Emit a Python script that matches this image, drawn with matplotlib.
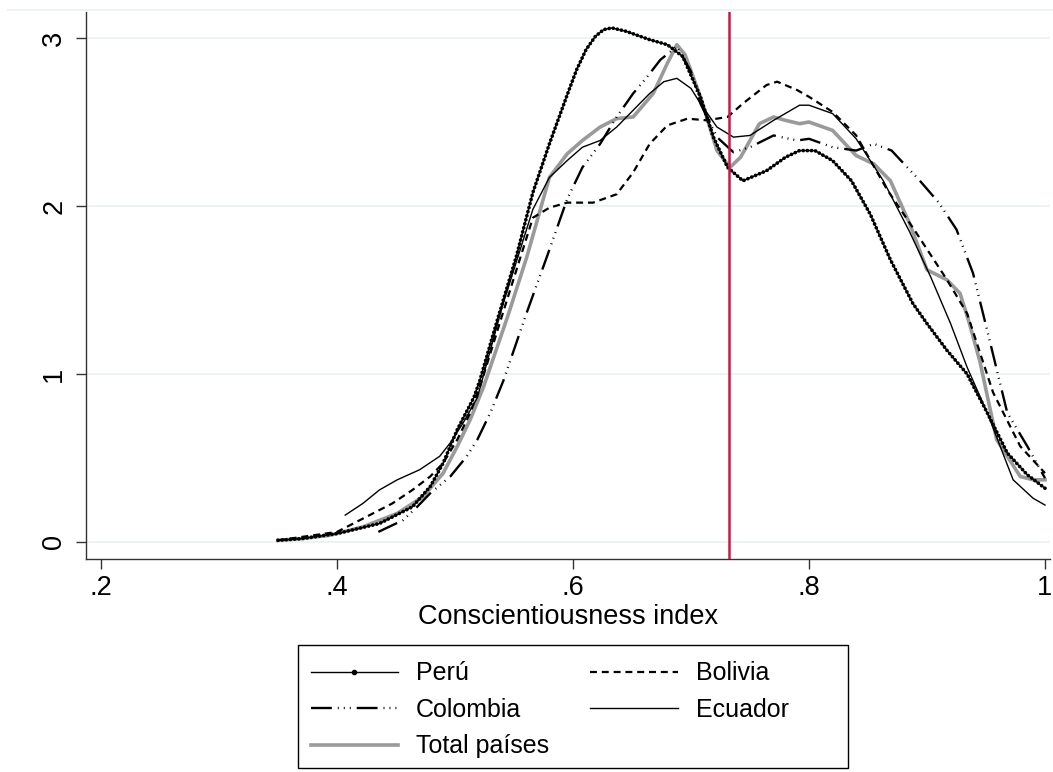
import matplotlib
matplotlib.use("Agg")
import matplotlib.pyplot as plt
from matplotlib.lines import Line2D
from matplotlib.patches import Rectangle

plt.rcParams['font.family'] = ['Liberation Sans', 'DejaVu Sans']
plt.rcParams['lines.scale_dashes'] = False

# ---------------- data ----------------
peru_x = [0.35, 0.37, 0.40, 0.436, 0.464, 0.479, 0.49, 0.502, 0.516, 0.521, 0.535, 0.552,
          0.566, 0.58, 0.595, 0.603, 0.611, 0.619, 0.626, 0.633, 0.645, 0.665, 0.68, 0.693,
          0.708, 0.719, 0.731, 0.744, 0.764, 0.78, 0.792, 0.805, 0.82, 0.836, 0.852, 0.869,
          0.888, 0.90, 0.917, 0.934, 0.951, 0.968, 0.985, 1.0]
peru_y = [0.01, 0.02, 0.05, 0.11, 0.21, 0.33, 0.47, 0.67, 0.86, 0.96, 1.30, 1.70,
          2.08, 2.37, 2.66, 2.81, 2.93, 3.01, 3.05, 3.06, 3.04, 2.99, 2.96, 2.89,
          2.65, 2.41, 2.23, 2.15, 2.21, 2.29, 2.33, 2.33, 2.27, 2.15, 1.95, 1.68,
          1.42, 1.30, 1.14, 1.00, 0.77, 0.53, 0.40, 0.32]

bolivia_x = [0.35, 0.40, 0.447, 0.464, 0.479, 0.49, 0.502, 0.513, 0.521, 0.54, 0.566, 0.58,
             0.595, 0.617, 0.637, 0.651, 0.665, 0.68, 0.697, 0.713, 0.731, 0.744, 0.764,
             0.773, 0.79, 0.80, 0.82, 0.84, 0.866, 0.89, 0.917, 0.934, 0.956, 0.979, 1.0]
bolivia_y = [0.01, 0.06, 0.23, 0.31, 0.39, 0.47, 0.61, 0.77, 0.92, 1.35, 1.93, 1.99,
             2.02, 2.02, 2.07, 2.20, 2.37, 2.48, 2.52, 2.51, 2.53, 2.61, 2.72,
             2.74, 2.69, 2.65, 2.56, 2.42, 2.10, 1.85, 1.56, 1.36, 0.89, 0.57, 0.41]

colombia_x = [0.435, 0.456, 0.468, 0.479, 0.496, 0.51, 0.519, 0.53, 0.541, 0.56, 0.578,
              0.595, 0.608, 0.623, 0.637, 0.651, 0.663, 0.674, 0.688, 0.70, 0.708, 0.722,
              0.736, 0.75, 0.77, 0.79, 0.80, 0.82, 0.84, 0.855, 0.87, 0.894, 0.91, 0.925,
              0.939, 0.951, 0.968, 0.985, 1.0]
colombia_y = [0.06, 0.13, 0.21, 0.29, 0.39, 0.51, 0.61, 0.77, 0.96, 1.35, 1.70,
              2.04, 2.23, 2.37, 2.53, 2.67, 2.77, 2.87, 2.95, 2.80, 2.61, 2.41,
              2.32, 2.35, 2.42, 2.39, 2.40, 2.35, 2.33, 2.37, 2.33, 2.15, 2.02, 1.86,
              1.60, 1.26, 0.77, 0.57, 0.38]

ecuador_x = [0.407, 0.422, 0.436, 0.451, 0.47, 0.487, 0.496, 0.507, 0.519, 0.54, 0.566,
             0.58, 0.595, 0.608, 0.623, 0.637, 0.651, 0.665, 0.677, 0.688, 0.70, 0.708,
             0.722, 0.736, 0.75, 0.77, 0.792, 0.80, 0.82, 0.84, 0.863, 0.885, 0.903,
             0.92, 0.934, 0.951, 0.973, 0.99, 1.0]
ecuador_y = [0.16, 0.23, 0.31, 0.37, 0.43, 0.51, 0.59, 0.71, 0.86, 1.40, 1.98,
             2.17, 2.27, 2.35, 2.39, 2.47, 2.57, 2.67, 2.74, 2.76, 2.70, 2.61,
             2.47, 2.41, 2.42, 2.51, 2.60, 2.60, 2.55, 2.40, 2.15, 1.85, 1.58,
             1.30, 1.04, 0.77, 0.37, 0.26, 0.22]

total_x = [0.35, 0.37, 0.394, 0.422, 0.451, 0.473, 0.49, 0.502, 0.513, 0.524, 0.545, 0.561,
           0.58, 0.595, 0.608, 0.623, 0.637, 0.651, 0.668, 0.68, 0.688, 0.695, 0.708,
           0.722, 0.733, 0.742, 0.758, 0.77, 0.78, 0.792, 0.80, 0.82, 0.84, 0.855,
           0.869, 0.885, 0.90, 0.917, 0.928, 0.936, 0.945, 0.959, 0.979, 0.99, 1.0]
total_y = [0.01, 0.02, 0.04, 0.09, 0.17, 0.27, 0.41, 0.57, 0.73, 0.92, 1.35, 1.70,
           2.17, 2.31, 2.39, 2.47, 2.52, 2.53, 2.67, 2.85, 2.96, 2.90, 2.65,
           2.33, 2.23, 2.29, 2.49, 2.53, 2.51, 2.49, 2.50, 2.45, 2.30, 2.25,
           2.15, 1.90, 1.62, 1.56, 1.48, 1.30, 1.07, 0.61, 0.39, 0.37, 0.37]

ref_x = 0.732
x_ticks = [0.2, 0.4, 0.6, 0.8, 1.0]
x_ticklabels = [".2", ".4", ".6", ".8", "1"]
y_ticks = [0, 1, 2, 3]
y_ticklabels = ["0", "1", "2", "3"]
x_label = "Conscientiousness index"
labels = ["Perú", "Bolivia", "Colombia", "Ecuador", "Total países"]

# ---------------- figure ----------------
W, H = 1053, 772
FS = 19.5
LFS = 18
fig = plt.figure(figsize=(W / 100, H / 100), dpi=100)
ax = fig.add_axes([86 / W, 1 - 559 / H, (1050 - 86) / W, (559 - 12) / H])
ax.set_xlim(0.18729, 1.00424)
ax.set_ylim(-0.1012, 3.1548)

grid_c = '#EAF2F3'
for yt in y_ticks:
    ax.axhline(yt, color=grid_c, lw=1.3, zorder=0)

fig.add_artist(Line2D([8 / W, 1.0], [1 - 10 / H, 1 - 10 / H], color=grid_c, lw=1.3))

# Total (gray, thick)
ax.plot(total_x, total_y, color='#9A9A9A', lw=2.6, zorder=3)
# Ecuador (thin solid)
ax.plot(ecuador_x, ecuador_y, color='black', lw=1.0, zorder=4)
# Bolivia (dashed)
ax.plot(bolivia_x, bolivia_y, color='black', lw=1.6, zorder=4,
        dashes=(5.0, 3.5))
# Colombia (long dash + 3 dots)
ax.plot(colombia_x, colombia_y, color='black', lw=1.7, zorder=4,
        dashes=(15, 4.3, 0.7, 3.6, 0.7, 3.6, 0.7, 4.3))
# Peru (line with dense dot markers)
ax.plot(peru_x, peru_y, color='black', lw=1.0, zorder=5)
ax.plot(peru_x, peru_y, color='black', lw=2.7, zorder=5,
        dashes=(0.01, 3.0), dash_capstyle='round')

ax.axvline(ref_x, color='#C9184A', lw=1.8, zorder=6)

for s in ['top', 'right']:
    ax.spines[s].set_visible(False)
for s in ['left', 'bottom']:
    ax.spines[s].set_color('#333333')
    ax.spines[s].set_linewidth(1.0)

ax.set_xticks(x_ticks)
ax.set_xticklabels(x_ticklabels)
ax.set_yticks(y_ticks)
ax.set_yticklabels(y_ticklabels, rotation=90, va='center')
ax.tick_params(axis='both', direction='out', length=7.5, width=1.0,
               color='#333333', labelsize=FS, pad=4)
ax.tick_params(axis='y', pad=6)
ax.set_xlabel(x_label, fontsize=FS, labelpad=2)

# legend (row-major order: Perú, Bolivia / Colombia, Ecuador / Total)
h_peru = Line2D([], [], color='black', lw=1.0, marker='o', ms=3)
h_bol = Line2D([], [], color='black', lw=1.6, dashes=(5.0, 3.5))
h_col = Line2D([], [], color='black', lw=1.7, dashes=(15, 4.3, 0.7, 3.6, 0.7, 3.6, 0.7, 4.3))
h_ecu = Line2D([], [], color='black', lw=1.0)
h_tot = Line2D([], [], color='#9A9A9A', lw=2.6)
handles = [h_peru, h_col, h_tot, h_bol, h_ecu]
leg_labels = [labels[0], labels[2], labels[4], labels[1], labels[3]]
leg = fig.legend(handles, leg_labels, ncol=2, loc='upper left',
                 bbox_to_anchor=(298 / W, 1 - 649 / H), borderaxespad=0,
                 fontsize=LFS, frameon=False,
                 handlelength=3.5, handletextpad=0.72, columnspacing=1.64,
                 labelspacing=0.5, borderpad=0.5, numpoints=1)

fig.add_artist(Rectangle((298 / W, 1 - 768 / H), 550 / W, 123 / H,
                         transform=fig.transFigure, fill=False,
                         edgecolor='black', lw=1.0))

fig.savefig("out.png", dpi=100)
